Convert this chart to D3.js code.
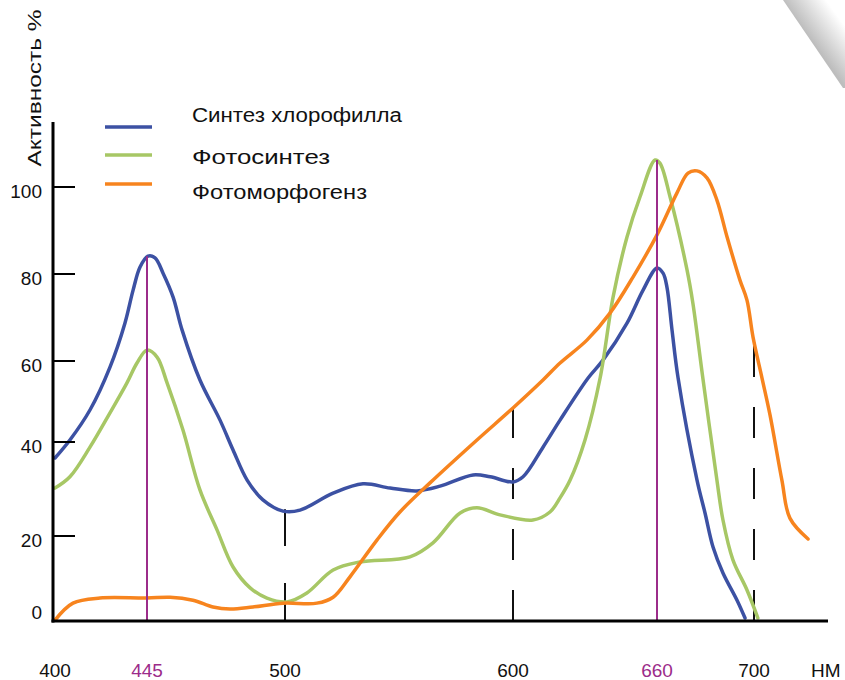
<!DOCTYPE html>
<html><head><meta charset="utf-8">
<script src="https://cdn.jsdelivr.net/npm/d3@7"></script>
<style>body{margin:0;background:#fff} svg{display:block} text{font-family:"Liberation Sans",Arial,Helvetica,sans-serif}</style>
</head><body><svg id="c" width="845" height="680"></svg>
<script>
// ---- data ----
const xTicks = [400, 445, 500, 600, 660, 700];
const yTicks = [0, 20, 40, 60, 80, 100];
const xUnit = "НМ";
const yTitle = "Активность %";
const seriesNames = ["Синтез хлорофилла", "Фотосинтез", "Фотоморфогенз"];

const blueNm  = [400,407.3,417.1,426.9,434.2,438.2,441.6,445.4,448.2,451.4,455.4,459,466.1,474.1,479.3,484.9,491.2,499.2,506.6,521.1,534.2,546.1,557.9,568,582.5,590,600,604.2,612.5,619.6,631.3,637.5,647.5,654.2,660,662.5,664.1,666.2,668.7,676.5,679.8,683.1,687.2,693,696.3];
const blueVal = [36.6,40.5,47.9,58.5,68.7,76.3,81.6,84.1,83.7,80.2,74.7,67.1,55.3,45.4,38.3,31.9,27.7,25.3,25.5,29.1,31.1,30.2,29.6,30.6,33.0,32.6,31.5,32.6,38.9,45.4,55.8,60.2,68.7,76.3,81.4,80.2,77.0,67.1,55.8,31.9,24.9,17.4,11.3,4.9,0.7];

const greenNm  = [400,407.3,417.1,426.9,435.2,440.1,445,449,453,459.3,466.1,472.9,479.3,486.1,492.8,500.9,509.6,521.1,532.9,554.8,564.9,576.8,584.2,594.3,608.3,615.4,619.6,623.8,630,636.3,641.7,647.5,652.9,659.2,661.2,665.4,672.4,674.8,678.9,684.7,687.2,691.3,697.1,701.6];
const greenVal = [30.2,32.6,38.9,47.2,54.6,59.5,62.5,60.9,54.6,43.0,29.8,21.3,12.7,7.8,5.4,4.5,6.6,12.0,13.9,15.1,18.4,24.9,26.0,24.5,23.4,25.1,28.1,31.9,40.5,55.8,74.7,88.5,97.7,106.2,105.5,97.7,80.9,73.3,55.8,31.9,23.4,14.4,7.3,0.7];

const orangeNm  = [400,408.8,422,445,454.2,463.3,471.3,478.1,487.2,499.2,514,521.1,528.5,540.4,550.4,563.6,584.2,600,612.5,619.6,630.8,640.4,650,660,668.2,672.8,676.5,680.6,684.7,688.9,694.2,697.1,699.6,703.3,706.6,711.5,714.8,722.3];
const orangeVal = [0.2,4.2,5.4,5.4,5.6,4.9,3.3,2.8,3.3,4.2,4.2,5.6,10.4,19.1,25.1,31.3,40.5,48.4,55.3,59.5,64.8,71.0,79.3,89.0,98.6,103.2,103.7,102.1,97.0,88.5,78.6,74.0,65.5,55.8,46.7,31.9,23.8,19.3];

const peakNm  = [445, 660];          // purple marker lines
const peakTop = [84.1, 106.2];
const dashNm  = [500, 600, 700];     // dashed guide lines
const dashTop = [25.7, 48.4, 64.5];

// ---- styles ----
const colors = ["#3c51a3", "#a7c765", "#f7841e"];
const purple = "#9c2c8a";

const svg = d3.select("#c");

// page curl
const defs = svg.append("defs");
const g0 = defs.append("linearGradient").attr("id","curl").attr("gradientUnits","userSpaceOnUse")
  .attr("x1",813).attr("y1",43).attr("x2",842).attr("y2",22);
g0.append("stop").attr("offset",0).attr("stop-color","#bdbdbd");
g0.append("stop").attr("offset",1).attr("stop-color","#ffffff");
svg.append("polygon").attr("points","783,0 845,0 845,88 843,88").attr("fill","url(#curl)");

const x = d3.scaleLinear().domain(xTicks).range([55,147,285,513,657,754]);
const y = d3.scaleLinear().domain(yTicks).range([621,536,442,361,274,187]);

// dashed guides
dashNm.forEach((n,i)=>{
  svg.append("line").attr("x1",x(n)).attr("x2",x(n)).attr("y1",y(0)).attr("y2",y(dashTop[i]))
    .attr("stroke","#111").attr("stroke-width",2)
    .attr("stroke-dasharray", n===500 ? "38 37" : "31 30");
});

// curves
const line = d3.line().x(d=>x(d[0])).y(d=>y(d[1])).curve(d3.curveCatmullRom.alpha(0.5));
const series = [[blueNm,blueVal],[greenNm,greenVal],[orangeNm,orangeVal]];
series.forEach((s,i)=>{
  const pts = s[0].map((n,k)=>[n,s[1][k]]);
  svg.append("path").attr("d",line(pts)).attr("fill","none")
    .attr("stroke",colors[i]).attr("stroke-width",3.5).attr("stroke-linejoin","round").attr("stroke-linecap","round");
});

// purple markers
peakNm.forEach((n,i)=>{
  svg.append("line").attr("x1",x(n)).attr("x2",x(n)).attr("y1",y(0)).attr("y2",y(peakTop[i]))
    .attr("stroke",purple).attr("stroke-width",2);
});

// axes
svg.append("line").attr("x1",53).attr("x2",53).attr("y1",122).attr("y2",622.5).attr("stroke","#000").attr("stroke-width",3);
svg.append("line").attr("x1",51.5).attr("x2",828).attr("y1",621).attr("y2",621).attr("stroke","#000").attr("stroke-width",3);

yTicks.filter(v=>v>0).forEach(v=>{
  svg.append("line").attr("x1",53).attr("x2",75).attr("y1",y(v)).attr("y2",y(v)).attr("stroke","#000").attr("stroke-width",2);
});
yTicks.forEach(v=>{
  svg.append("text").attr("x",42).attr("y", v===0 ? 619 : y(v)+11).attr("text-anchor","end")
    .attr("font-size",19).attr("fill","#111").text(v);
});
xTicks.forEach(v=>{
  svg.append("text").attr("x",x(v)).attr("y",677).attr("text-anchor","middle")
    .attr("font-size",19).attr("fill", peakNm.includes(v) ? purple : "#111").text(v);
});
svg.append("text").attr("x",811).attr("y",677).attr("font-size",19).attr("fill","#111").text(xUnit);

svg.append("text").attr("transform","translate(41,88) rotate(-90)").attr("text-anchor","middle")
  .attr("font-size",19).attr("fill","#111").attr("textLength",157).attr("lengthAdjust","spacingAndGlyphs").text(yTitle);

// legend
const legLineY = [127,155,184];
const legTextY = [122,164,199];
const legLen = [210,138,175];
seriesNames.forEach((nm,i)=>{
  svg.append("line").attr("x1",105).attr("x2",152).attr("y1",legLineY[i]).attr("y2",legLineY[i])
    .attr("stroke",colors[i]).attr("stroke-width",3.5);
  svg.append("text").attr("x",192).attr("y",legTextY[i]).attr("font-size",20).attr("fill","#111")
    .attr("textLength",legLen[i]).attr("lengthAdjust","spacingAndGlyphs").text(nm);
});
</script></body></html>
